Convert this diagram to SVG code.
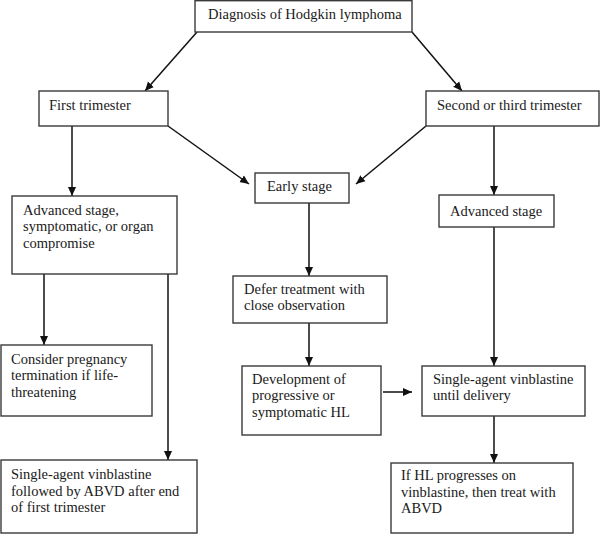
<svg xmlns="http://www.w3.org/2000/svg" width="600" height="534" viewBox="0 0 600 534">
<defs>
<style>
.box{fill:#fff;stroke:#3a3a3a;stroke-width:1.4}
.t{font-family:"Liberation Serif","Times New Roman",serif;font-size:14.5px;fill:#1a1a1a}
.c{stroke:#111;stroke-width:1.5;fill:none;marker-end:url(#ah)}
</style>
<marker id="ah" markerUnits="userSpaceOnUse" markerWidth="10" markerHeight="10" viewBox="0 0 10 10" refX="9" refY="5" orient="auto">
<path d="M0,1 L9,5 L0,9 Z" fill="#111"/>
</marker>
</defs>
<rect width="600" height="534" fill="#fff"/>
<g id="connectors">
<line class="c" x1="197" y1="32" x2="145" y2="91"/>
<line class="c" x1="412" y1="32" x2="462" y2="91"/>
<line class="c" x1="168" y1="126" x2="249" y2="184"/>
<line class="c" x1="426" y1="126" x2="356" y2="184"/>
<line class="c" x1="72" y1="126" x2="72" y2="196"/>
<line class="c" x1="309" y1="203" x2="309" y2="276"/>
<line class="c" x1="494" y1="126" x2="494" y2="195"/>
<line class="c" x1="44" y1="274" x2="44" y2="345"/>
<line class="c" x1="168" y1="274" x2="168" y2="460"/>
<line class="c" x1="309" y1="323" x2="309" y2="366"/>
<line class="c" x1="494" y1="227" x2="494" y2="366"/>
<line class="c" x1="383" y1="392" x2="412" y2="392"/>
<line class="c" x1="494" y1="416" x2="494" y2="463"/>
</g>
<g id="diagnosis"><rect class="box" x="195" y="0.7" width="217" height="31.3"/><text class="t" x="208" y="19">Diagnosis of Hodgkin lymphoma</text></g>
<g id="first-trimester"><rect class="box" x="39" y="91" width="129" height="35"/><text class="t" x="49" y="110">First trimester</text></g>
<g id="second-trimester"><rect class="box" x="426" y="91" width="173" height="35"/><text class="t" x="437" y="110">Second or third trimester</text></g>
<g id="early-stage"><rect class="box" x="255" y="173" width="94" height="30"/><text class="t" x="267" y="191">Early stage</text></g>
<g id="advanced-left"><rect class="box" x="12" y="196" width="165" height="78"/><text class="t"><tspan x="23" y="215">Advanced stage,</tspan><tspan x="23" y="231">symptomatic, or organ</tspan><tspan x="23" y="248">compromise</tspan></text></g>
<g id="advanced-right"><rect class="box" x="439" y="195" width="115" height="32"/><text class="t" x="450" y="216">Advanced stage</text></g>
<g id="defer"><rect class="box" x="233" y="276" width="154" height="47"/><text class="t"><tspan x="244" y="294">Defer treatment with</tspan><tspan x="244" y="310">close observation</tspan></text></g>
<g id="consider"><rect class="box" x="1" y="345" width="151" height="71"/><text class="t"><tspan x="11" y="364">Consider pregnancy</tspan><tspan x="11" y="380">termination if life-</tspan><tspan x="11" y="397">threatening</tspan></text></g>
<g id="development"><rect class="box" x="242" y="366" width="139" height="69"/><text class="t"><tspan x="252" y="384">Development of</tspan><tspan x="252" y="400">progressive or</tspan><tspan x="252" y="417">symptomatic HL</tspan></text></g>
<g id="vinblastine-delivery"><rect class="box" x="422" y="366" width="163" height="50"/><text class="t"><tspan x="433" y="384">Single-agent vinblastine</tspan><tspan x="433" y="400">until delivery</tspan></text></g>
<g id="vinblastine-abvd"><rect class="box" x="1" y="460" width="196" height="73"/><text class="t"><tspan x="11" y="479">Single-agent vinblastine</tspan><tspan x="11" y="496">followed by ABVD after end</tspan><tspan x="11" y="512">of first trimester</tspan></text></g>
<g id="if-progresses"><rect class="box" x="391" y="463" width="182" height="70"/><text class="t"><tspan x="401" y="480">If HL progresses on</tspan><tspan x="401" y="497">vinblastine, then treat with</tspan><tspan x="401" y="513">ABVD</tspan></text></g>
</svg>
